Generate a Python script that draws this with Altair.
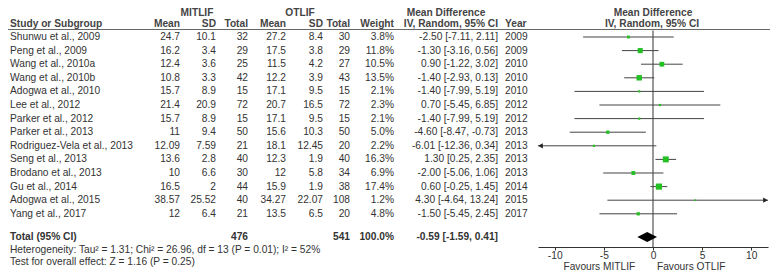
import altair as alt
import pandas as pd

# ---------------- data ----------------
studies = ["Shunwu et al., 2009", "Peng et al., 2009", "Wang et al., 2010a", "Wang et al., 2010b",
           "Adogwa et al., 2010", "Lee et al., 2012", "Parker et al., 2012", "Parker et al., 2013",
           "Rodriguez-Vela et al., 2013", "Seng et al., 2013", "Brodano et al., 2013", "Gu et al., 2014",
           "Adogwa et al., 2015", "Yang et al., 2017"]
mit_mean = [24.7, 16.2, 12.4, 10.8, 15.7, 21.4, 15.7, 11, 12.09, 13.6, 10, 16.5, 38.57, 12]
mit_sd = [10.1, 3.4, 3.6, 3.3, 8.9, 20.9, 8.9, 9.4, 7.59, 2.8, 6.6, 2, 25.52, 6.4]
mit_n = [32, 29, 25, 42, 15, 72, 15, 50, 21, 40, 30, 44, 40, 21]
ot_mean = [27.2, 17.5, 11.5, 12.2, 17.1, 20.7, 17.1, 15.6, 18.1, 12.3, 12, 15.9, 34.27, 13.5]
ot_sd = [8.4, 3.8, 4.2, 3.9, 9.5, 16.5, 9.5, 10.3, 12.45, 1.9, 5.8, 1.9, 22.07, 6.5]
ot_n = [30, 29, 27, 43, 15, 72, 15, 50, 20, 40, 34, 38, 108, 20]
weight = [3.8, 11.8, 10.5, 13.5, 2.1, 2.3, 2.1, 5.0, 2.2, 16.3, 6.9, 17.4, 1.2, 4.8]
md = [-2.50, -1.30, 0.90, -1.40, -1.40, 0.70, -1.40, -4.60, -6.01, 1.30, -2.00, 0.60, 4.30, -1.50]
ci_lo = [-7.11, -3.16, -1.22, -2.93, -7.99, -5.45, -7.99, -8.47, -12.36, 0.25, -5.06, -0.25, -4.64, -5.45]
ci_hi = [2.11, 0.56, 3.02, 0.13, 5.19, 6.85, 5.19, -0.73, 0.34, 2.35, 1.06, 1.45, 13.24, 2.45]
years = [2009, 2009, 2010, 2010, 2010, 2012, 2012, 2013, 2013, 2013, 2013, 2014, 2015, 2017]

total_mit_n = 476
total_ot_n = 541
total_weight = 100.0
total_md = -0.59
total_lo = -1.59
total_hi = 0.41
heterogeneity = "Heterogeneity: Tau\u00b2 = 1.31; Chi\u00b2 = 26.96, df = 13 (P = 0.01); I\u00b2 = 52%"
overall = "Test for overall effect: Z = 1.16 (P = 0.25)"
axis_ticks = [-10, -5, 0, 5, 10]
x_min, x_max = -11.7, 11.7

# ---------------- layout ----------------
W, H = 762, 263
ROW0, ROWH = 29.0, 13.6
FONT = "Liberation Sans"
FS = 10.2
TXT = "#333333"
HDR = "#444444"


def row_of(px):
    return (px - ROW0) / ROWH


ROW_TOTAL = row_of(229)
Y_HET, Y_TEST = 242, 254
Y_H1, Y_H2, Y_LINE, Y_AXIS, Y_FAV = 5.0, 16.0, 21.5, 239, 258.5

fmt = lambda v: f"{v:g}"

df = pd.DataFrame({
    "study": studies, "row": list(range(len(studies))),
    "m1": [fmt(v) for v in mit_mean], "s1": [fmt(v) for v in mit_sd], "n1": [str(v) for v in mit_n],
    "m2": [fmt(v) for v in ot_mean], "s2": [fmt(v) for v in ot_sd], "n2": [str(v) for v in ot_n],
    "w": [f"{v:.1f}%" for v in weight], "weight": weight,
    "md": md, "lo": ci_lo, "hi": ci_hi,
    "ci": [f"{m:.2f} [{l:.2f}, {h:.2f}]" for m, l, h in zip(md, ci_lo, ci_hi)],
    "year": [str(y) for y in years],
})
df["lo_c"] = df["lo"].clip(lower=x_min)
df["hi_c"] = df["hi"].clip(upper=x_max)

xscale = alt.Scale(domain=[x_min, x_max], range=[530, 760], nice=False, zero=False)
xaxis = alt.Axis(values=axis_ticks, orient="bottom", offset=Y_AXIS - H, tickSize=3, labelPadding=0,
                 labelFontSize=FS, labelFont=FONT, labelColor=TXT, domainColor="#333333",
                 tickColor="#333333", grid=False, title=None, labelExpr="'' + datum.value",
                 labelFlush=False)
yscale = alt.Scale(domain=[row_of(0), row_of(H)], range=[0, H], nice=False, zero=False)
Y = alt.Y("row:Q", scale=yscale, axis=None)

layers = []

# header line
layers.append(alt.Chart(pd.DataFrame({"a": [0]})).mark_rule(color="#666666", strokeWidth=1).encode(
    x=alt.value(0), x2=alt.value(W), y=alt.value(Y_LINE)))

# zero line
layers.append(alt.Chart(pd.DataFrame({"z": [0]})).mark_rule(color="#333333", strokeWidth=1).encode(
    x=alt.X("z:Q", scale=xscale, axis=xaxis), y=alt.value(Y_LINE + 1), y2=alt.value(Y_AXIS)))

base = alt.Chart(df)
# CI lines
layers.append(base.mark_rule(color="#444444", strokeWidth=1).encode(
    x=alt.X("lo_c:Q", scale=xscale, axis=xaxis), x2="hi_c:Q", y=Y))
# squares
layers.append(base.mark_square(color="#22c022", opacity=1).encode(
    x=alt.X("md:Q", scale=xscale, axis=xaxis), y=Y,
    size=alt.Size("weight:Q", scale=alt.Scale(domain=[0, 17.4], range=[0, 38]), legend=None)))
# arrows
layers.append(base.transform_filter(alt.datum.lo < x_min).mark_point(
    shape="triangle-left", filled=True, size=28, color="#222222", xOffset=2.5, opacity=1).encode(
    x=alt.X("lo_c:Q", scale=xscale, axis=xaxis), y=Y))
layers.append(base.transform_filter(alt.datum.hi > x_max).mark_point(
    shape="triangle-right", filled=True, size=28, color="#222222", xOffset=-2.5, opacity=1).encode(
    x=alt.X("hi_c:Q", scale=xscale, axis=xaxis), y=Y))

# diamond
half = 5.0 / ROWH
dia = pd.DataFrame({"x": [total_lo, total_md, total_hi],
                    "y1": [ROW_TOTAL, ROW_TOTAL - half, ROW_TOTAL],
                    "y2": [ROW_TOTAL, ROW_TOTAL + half, ROW_TOTAL]})
layers.append(alt.Chart(dia).mark_area(color="#000000", opacity=1).encode(
    x=alt.X("x:Q", scale=xscale, axis=xaxis),
    y=alt.Y("y1:Q", scale=yscale, axis=None), y2="y2:Q"))

# table columns
cols = [("study", 2, "left"), ("m1", 172, "right"), ("s1", 208, "right"), ("n1", 240, "right"),
        ("m2", 278, "right"), ("s2", 315, "right"), ("n2", 342, "right"), ("w", 386, "right"),
        ("ci", 490, "right"), ("year", 497, "left")]
for field, px, al in cols:
    layers.append(base.mark_text(align=al, baseline="middle", font=FONT, fontSize=FS, color=TXT).encode(
        x=alt.value(px), y=Y, text=f"{field}:N"))


def label(text, px, py, al, bold=True, size=FS, color=HDR):
    return alt.Chart(pd.DataFrame({"t": [text]})).mark_text(
        align=al, baseline="middle", font=FONT, fontSize=size,
        fontWeight="bold" if bold else "normal", color=color).encode(
        x=alt.value(px), y=alt.value(py), text="t:N")


# headers
layers += [
    label("MITLIF", 189, Y_H1, "center"),
    label("OTLIF", 292, Y_H1, "center"),
    label("Mean Difference", 438, Y_H1, "center"),
    label("Mean Difference", 645, Y_H1, "center"),
    label("Study or Subgroup", 2, Y_H2, "left"),
    label("Mean", 172, Y_H2, "right"),
    label("SD", 208, Y_H2, "right"),
    label("Total", 240, Y_H2, "right"),
    label("Mean", 278, Y_H2, "right"),
    label("SD", 315, Y_H2, "right"),
    label("Total", 342, Y_H2, "right"),
    label("Weight", 386, Y_H2, "right"),
    label("IV, Random, 95% CI", 490, Y_H2, "right"),
    label("Year", 497, Y_H2, "left"),
    label("IV, Random, 95% CI", 644, Y_H2, "center"),
]

# totals row and footer
ty = ROW0 + ROW_TOTAL * ROWH
layers += [
    label("Total (95% CI)", 2, ty, "left", color=TXT),
    label(str(total_mit_n), 240, ty, "right", color=TXT),
    label(str(total_ot_n), 342, ty, "right", color=TXT),
    label(f"{total_weight:.1f}%", 386, ty, "right", color=TXT),
    label(f"{total_md:.2f} [{total_lo:.2f}, {total_hi:.2f}]", 490, ty, "right", color=TXT),
    label(heterogeneity, 2, Y_HET, "left", bold=False, color=TXT),
    label(overall, 2, Y_TEST, "left", bold=False, color=TXT),
]

fav = pd.DataFrame({"x": [-1.8], "t": ["Favours MITLIF"]})
fav2 = pd.DataFrame({"x": [0.4], "t": ["Favours OTLIF"]})
for d, al in [(fav, "right"), (fav2, "left")]:
    layers.append(alt.Chart(d).mark_text(align=al, baseline="middle", font=FONT, fontSize=FS,
                                         color=TXT).encode(
        x=alt.X("x:Q", scale=xscale, axis=xaxis), y=alt.value(Y_FAV), text="t:N"))

chart = alt.layer(*layers).properties(
    width=W, height=H, autosize=alt.AutoSizeParams(type="none"), padding=0
).configure_view(stroke=None)

chart.save("out.html", embed_options={"renderer": "svg", "actions": False})
